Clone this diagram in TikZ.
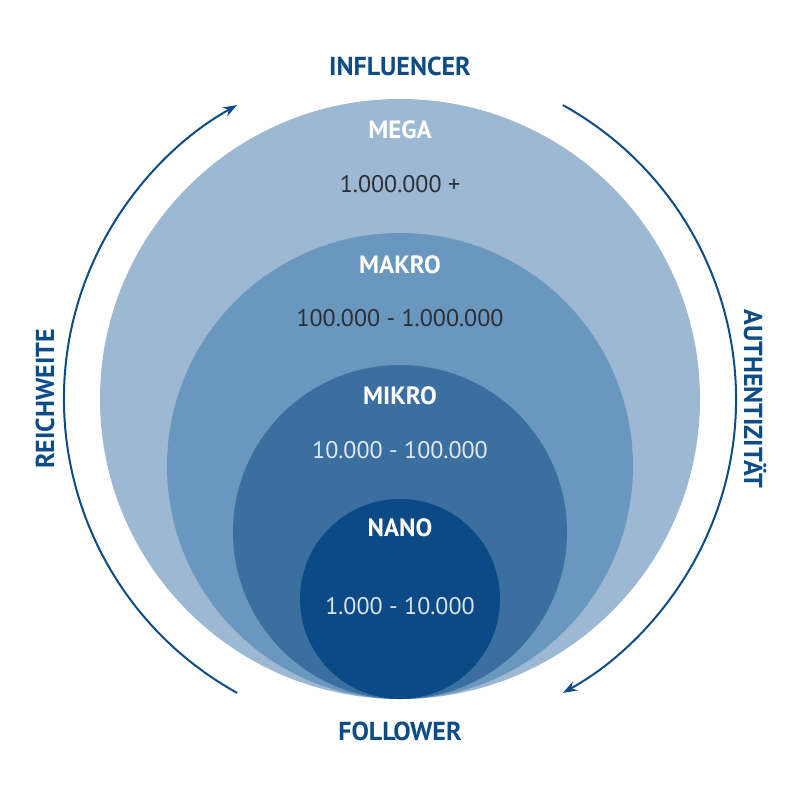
\documentclass[tikz,border=0pt]{standalone}
\usepackage{fontspec}
\setmainfont{PT Sans}
\usetikzlibrary{arrows.meta}
\definecolor{navy}{HTML}{0E4C85}
\definecolor{cmega}{HTML}{9DB8D2}
\definecolor{cmakro}{HTML}{6A97BD}
\definecolor{cmikro}{HTML}{3A6FA0}
\definecolor{cnano}{HTML}{0B4A85}
\definecolor{numdark}{HTML}{2A2F36}
\tikzset{
  title/.style={font=\fontsize{26}{26}\selectfont\bfseries, text=navy},
  ctitle/.style={font=\fontsize{25}{25}\selectfont\bfseries, text=white},
  num/.style={font=\fontsize{24}{24}\selectfont},
  arc/.style={draw=navy, line width=2pt, -{Stealth[length=14pt,width=10pt]}}
}
\begin{document}
\begin{tikzpicture}[x=1pt,y=-1pt]
\useasboundingbox (0,0) rectangle (800,800);
\fill[white] (0,0) rectangle (800,800);
\fill[cmega] (400,399) circle[radius=300];
\fill[cmakro] (400,466) circle[radius=233];
\fill[cmikro] (400,532) circle[radius=167];
\fill[cnano] (400,599) circle[radius=100];
\node[ctitle] (mega) at (400,130) {MEGA};
\node[num, text=numdark] (megan) at (400,184) {1.000.000 +};
\node[ctitle] (makro) at (400,265) {MAKRO};
\node[num, text=numdark] (makron) at (400,318) {100.000 - 1.000.000};
\node[ctitle] (mikro) at (400,396) {MIKRO};
\node[num, text=white!85!cmikro] (mikron) at (400,450) {10.000 - 100.000};
\node[ctitle] (nano) at (400,528) {NANO};
\node[num, text=white!85!cnano] (nanon) at (400,606) {1.000 - 10.000};
\node[title] (infl) at (400,66) {INFLUENCER};
\node[title] (foll) at (400,731) {FOLLOWER};
\node[title, rotate=90] (reich) at (45,399) {REICHWEITE};
\node[title, rotate=-90] (auth) at (755,399) {AUTHENTIZITÄT};
\coordinate (c) at (400,399);
\draw[arc] ([shift={(119:336)}]c) arc[start angle=119, end angle=241, radius=336];
\draw[arc] ([shift={(-61:336)}]c) arc[start angle=-61, end angle=61, radius=336];
\end{tikzpicture}
\end{document}
